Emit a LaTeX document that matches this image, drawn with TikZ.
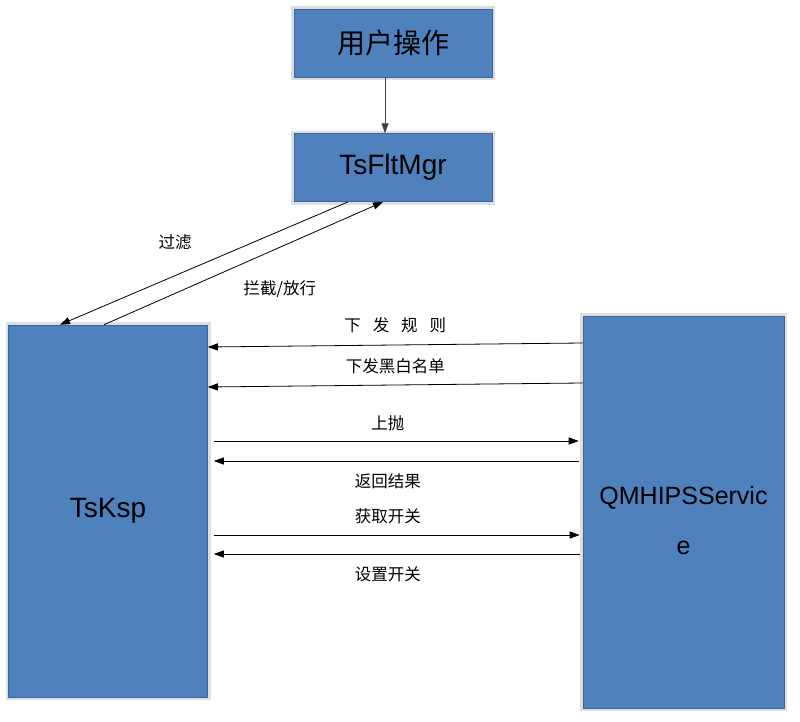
\documentclass[tikz,border=0pt]{standalone}
\usepackage{fontspec}
\setmainfont{Liberation Sans}
\newfontfamily\cjk{Noto Sans CJK SC}
\usepackage{xcolor}
\usetikzlibrary{arrows.meta,positioning}
\definecolor{boxblue}{RGB}{79,129,189}
\definecolor{boxedge}{RGB}{58,102,160}
\newcommand{\gap}{\hspace{12pt}}

\begin{document}
\begin{tikzpicture}[->,>={Triangle[length=10pt,width=7pt]},x=1pt,y=-1pt,
                    line width=0.8pt,node distance=56pt]
  \tikzstyle{module}=[rectangle,fill=boxblue,draw=boxedge,line width=0.6pt,
                      preaction={draw=black!13,line width=6pt},
                      font=\fontsize{28}{32}\selectfont,text=black]
  \tikzstyle{msg}=[font=\cjk\fontsize{16.5}{20}\selectfont,text=black]
  \useasboundingbox (0,0) rectangle (800,722);

  \node[module,minimum width=198pt,minimum height=68pt,
        font=\cjk\fontsize{28}{32}\selectfont] (user) at (393,43) {用户操作};
  \node[module,minimum width=198pt,minimum height=68pt] (mgr) [below=56pt of user] {TsFltMgr};
  \node[module,minimum width=199pt,minimum height=372pt] (ksp) at (108,511) {TsKsp};
  \node[module,minimum width=201pt,minimum height=392pt,
        label={[font=\fontsize{25}{50}\selectfont,align=center,yshift=-9pt]center:QMHIPSServic\\e}]
        (hips) at (683.5,512) {};

  \path ([xshift=-8pt]user.south) edge[draw=black!75] ([xshift=-8pt]mgr.north)
        ([xshift=-45pt]mgr.south) edge node[pos=0.6,above=22pt,msg] {过滤} ([xshift=-48pt]ksp.north)
        ([xshift=-4pt]ksp.north)  edge node[pos=0.63,below=30pt,msg] {拦截/放行} ([xshift=-10pt]mgr.south)
        (hips.west |- 0,343) edge node[above=8pt,msg] {下\gap 发\gap 规\gap 则} (ksp.east |- 0,347)
        (hips.west |- 0,383) edge node[above=7pt,msg] {下发黑白名单} (ksp.east |- 0,387)
        (ksp.east |- 0,441)  edge[shorten <=6pt,shorten >=4pt]
                             node[pos=0.48,above=6pt,msg] {上抛} (hips.west |- 0,441)
        (hips.west |- 0,461) edge[shorten <=4pt,shorten >=6pt]
                             node[pos=0.52,below=9pt,msg] {返回结果} (ksp.east |- 0,461)
        (ksp.east |- 0,535)  edge[shorten <=6pt,shorten >=3pt]
                             node[pos=0.48,above=7pt,msg] {获取开关} (hips.west |- 0,535)
        (hips.west |- 0,554) edge[shorten <=3pt,shorten >=6pt]
                             node[pos=0.52,below=9pt,msg] {设置开关} (ksp.east |- 0,554);
\end{tikzpicture}
\end{document}
